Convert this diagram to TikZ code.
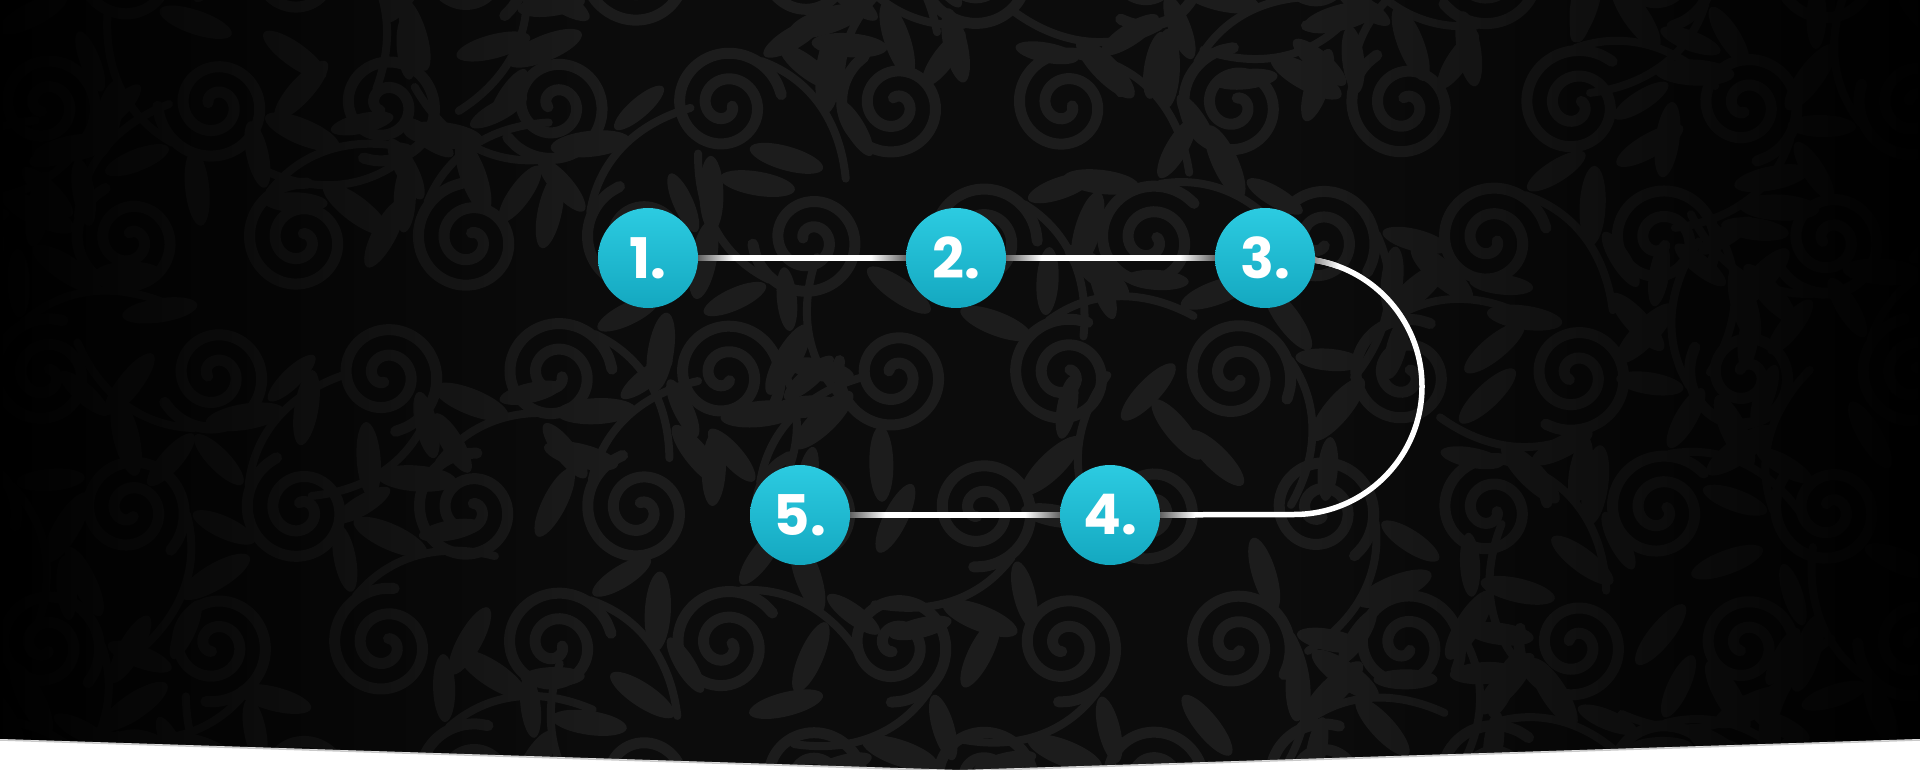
\documentclass[tikz,border=0pt]{standalone}
\usepackage{fontspec}
\setmainfont{Poppins}
\usetikzlibrary{calc,fadings}
\pgfdeclarelayer{bg}
\pgfdeclarelayer{lines}
\pgfdeclarelayer{top}
\pgfsetlayers{bg,lines,main,top}
\definecolor{base}{HTML}{0C0C0C}
\definecolor{swirl}{HTML}{1C1C1C}
\definecolor{cyanT}{HTML}{2CCBE1}
\definecolor{cyanB}{HTML}{14A8C0}
\definecolor{fadegray}{HTML}{5A5A5A}
\tikzfading[name=vigleft, left color=transparent!0, right color=transparent!100]
\tikzfading[name=vigright, left color=transparent!100, right color=transparent!0]
\tikzset{
  damask/.pic={
    \draw[swirl, line width=11, line cap=round] plot[domain=60:760, samples=60, smooth] (\x:{3+\x/14});
    \draw[swirl, line width=8, line cap=round] (57,0) .. controls (75,50) and (60,100) .. (20,140);
    \fill[swirl, rotate around={35:(90,60)}] (90,60) ellipse (40 and 13);
    \fill[swirl, rotate around={-20:(95,10)}] (95,10) ellipse (34 and 11);
    \fill[swirl, rotate around={70:(65,115)}] (65,115) ellipse (32 and 10);
    \fill[swirl, rotate around={-60:(-40,75)}] (-40,75) ellipse (38 and 12);
  },
  stepnode/.style={circle, minimum size=100, inner sep=0, top color=cyanT, bottom color=cyanB,
    text=white, font=\fontsize{56}{56}\selectfont\bfseries},
  conn/.style={white, line width=5.5},
  fadeR/.style={left color=fadegray, right color=white},
  fadeL/.style={left color=white, right color=fadegray}
}
\begin{document}
\begin{tikzpicture}[x=1pt,y=-1pt]
\useasboundingbox (0,0) rectangle (1920,770);
\clip (0,0) rectangle (1920,770);
\begin{pgfonlayer}{bg}
  \fill[base] (0,0) rectangle (1920,770);
  \pgfmathsetseed{42}
  \foreach \row in {0,...,6}{
    \foreach \col in {0,...,12}{
      \pgfmathsetmacro\px{\col*170 - 40 + mod(\row,2)*85}
      \pgfmathsetmacro\py{\row*135 - 30}
      \pgfmathsetmacro\rot{rnd*360}
      \pic[rotate=\rot] at (\px,\py) {damask};
    }
  }
  \fill[black, fill opacity=.97, path fading=vigleft] (0,0) rectangle (620,770);
  \fill[black, fill opacity=.97, path fading=vigright] (1300,0) rectangle (1920,770);
\end{pgfonlayer}

\node[stepnode] (n1) at (648,258) {1.};
\node[stepnode] (n2) at (956,258) {2.};
\node[stepnode] (n3) at (1265,258) {3.};
\node[stepnode] (n4) at (1110,515) {4.};
\node[stepnode] (n5) at (800,515) {5.};
\coordinate (a1) at (1294,258.5);
\coordinate (a2) at (1294,514.5);
\coordinate (ctr) at (1294,386.5);

\begin{pgfonlayer}{lines}
  \draw[conn] (n1) -- (n2);
  \draw[conn] (n2) -- (n3);
  \draw[conn] (n3) -- (a1) arc[start angle=-90, end angle=90, radius=128] -- (n4);
  \draw[conn] (n4) -- (n5);
  \shade[fadeR] ($(n1.east)+(-2,-2.75)$) rectangle ($(n1.east)+(35,2.75)$);
  \shade[fadeL] ($(n2.west)+(-35,-2.75)$) rectangle ($(n2.west)+(2,2.75)$);
  \shade[fadeR] ($(n2.east)+(-2,-2.75)$) rectangle ($(n2.east)+(35,2.75)$);
  \shade[fadeL] ($(n3.west)+(-35,-2.75)$) rectangle ($(n3.west)+(2,2.75)$);
  \shade[left color=black!80, right color=white]
    ($(ctr)+(-90:130.75)$) arc[start angle=-90, end angle=-70, radius=130.75]
    -- ($(ctr)+(-70:125.25)$) arc[start angle=-70, end angle=-90, radius=125.25] -- cycle;
  \shade[fadeR] ($(n4.east)+(-2,-2.75)$) rectangle ($(n4.east)+(35,2.75)$);
  \shade[fadeL] ($(n4.west)+(-35,-2.75)$) rectangle ($(n4.west)+(2,2.75)$);
  \shade[fadeR] ($(n5.east)+(-2,-2.75)$) rectangle ($(n5.east)+(35,2.75)$);
\end{pgfonlayer}

\begin{pgfonlayer}{top}
  \fill[white] (0,739) -- (960,770) -- (1920,739) -- (1920,775) -- (0,775) -- cycle;
  \draw[black!60, line width=1.5, opacity=.35] (0,740) -- (960,771) -- (1920,740);
\end{pgfonlayer}
\end{tikzpicture}
\end{document}
